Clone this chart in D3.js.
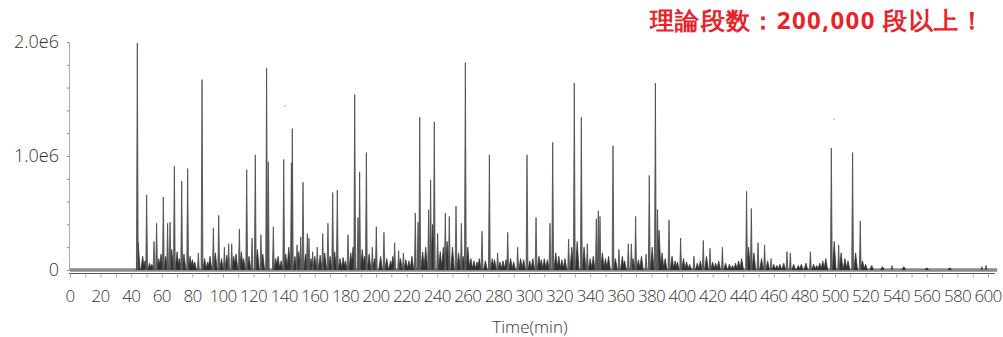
<!DOCTYPE html>
<html>
<head>
<meta charset="utf-8">
<script src="https://cdn.jsdelivr.net/npm/d3@7"></script>
<style>
  body { margin: 0; background: #fff; }
  svg text { font-family: "Open Sans", "Noto Sans", "DejaVu Sans", sans-serif; }
</style>
</head>
<body>
<div id="chart"></div>
<script>
// main peaks (time in min, height in units of 1e6)
const peakTimes = [44.0, 50.1, 54.9, 56.6, 61.0, 63.8, 65.4, 68.2, 73.0, 76.9, 83.9, 86.3, 93.7, 97.2,
  100.9, 103.7, 105.7, 110.7, 115.5, 119.0, 121.1, 124.8, 128.5, 129.6, 132.9, 139.7, 144.7, 145.3,
  148.4, 150.8, 152.3, 155.1, 156.2, 158.6, 161.6, 165.2, 168.6, 171.7, 174.7, 181.7, 186.1, 188.2,
  189.3, 193.7, 197.6, 200.2, 205.2, 212.2, 214.8, 217.9, 225.7, 227.5, 228.6, 234.4, 235.7, 238.1,
  240.3, 245.3, 247.9, 252.3, 255.8, 258.4, 269.3, 274.1, 279.5, 286.1, 292.6, 298.7, 304.6, 313.7,
  315.5, 325.9, 329.6, 334.2, 338.1, 344.0, 345.3, 346.4, 354.9, 358.8, 364.9, 366.9, 369.7, 376.5,
  378.6, 382.6, 384.0, 391.5, 399.1, 407.8, 413.9, 418.3, 426.4, 442.2, 445.3, 449.7, 454.0, 458.2,
  468.6, 470.8, 483.9, 497.6, 502.4, 511.5, 516.5, 537.3, 596.0, 598.7];
const peakHeights = [1.99, 0.66, 0.25, 0.41, 0.64, 0.41, 0.42, 0.91, 0.78, 0.89, 0.15, 1.67, 0.37, 0.48,
  0.20, 0.23, 0.23, 0.36, 0.88, 0.28, 1.01, 0.31, 1.77, 0.95, 0.38, 0.97, 0.94, 1.24,
  0.22, 0.29, 0.77, 0.32, 0.28, 0.16, 0.20, 0.32, 0.41, 0.68, 0.70, 0.31, 1.54, 0.46,
  0.86, 1.03, 0.20, 0.38, 0.33, 0.24, 0.17, 0.15, 0.50, 0.42, 1.34, 0.53, 0.79, 1.30,
  0.32, 0.50, 0.47, 0.56, 0.41, 1.82, 0.34, 1.01, 0.15, 0.33, 0.20, 1.01, 0.46, 0.41,
  1.12, 0.27, 1.64, 1.34, 0.23, 0.45, 0.52, 0.47, 1.09, 0.18, 0.23, 0.23, 0.47, 0.14,
  0.83, 1.64, 0.53, 0.44, 0.28, 0.12, 0.26, 0.19, 0.20, 0.69, 0.54, 0.24, 0.22, 0.10,
  0.16, 0.15, 0.16, 1.07, 0.22, 1.03, 0.43, 0.04, 0.03, 0.04];

// small bumps of the noisy baseline
const minorTimes = [44.6, 47.5, 49, 52, 53.5, 58, 59.5, 62.5, 66.5, 70, 71.5, 74.5, 78.5, 80, 81.5, 88, 90,
  91.5, 95, 99, 102.5, 107, 108.5, 112, 113.5, 117, 122.5, 126, 134.5, 136, 138, 141, 143, 147, 149.5,
  154, 157.5, 160, 163.5, 166.5, 170, 173, 176.5, 178.5, 180, 183.5, 185, 191, 192.5, 195.5, 199, 203,
  207, 209.5, 211, 216, 219.5, 221.5, 223.5, 230.5, 232.5, 237, 242, 244, 246.5, 250, 254, 257, 260,
  262, 264, 266, 267.5, 271.5, 276, 277.5, 281, 283, 285, 288, 290, 294.5, 296.5, 300.5, 302.5, 306.5,
  308, 310, 312, 317.5, 319.5, 321.5, 323.5, 328, 331.5, 336, 340, 342, 348, 350, 352, 356.5, 361,
  362.5, 368, 371.5, 373.5, 380.5, 385, 387, 389, 393.5, 395.5, 397, 401, 403, 405, 410, 412, 416,
  420, 422, 424, 428.5, 431, 433, 435, 437, 439, 443.5, 447, 452, 456, 460, 462, 464, 466.5, 473,
  476, 478, 481, 486, 488, 490, 492, 494, 499.5, 504, 506.5, 508.5, 513.5, 518, 520, 524, 531, 545,
  560, 575];
const minorHeights = [0.24, 0.12, 0.08, 0.06, 0.05, 0.10, 0.14, 0.12, 0.18, 0.16, 0.10, 0.14, 0.12, 0.09, 0.07, 0.10, 0.07,
  0.12, 0.15, 0.10, 0.13, 0.12, 0.14, 0.16, 0.10, 0.12, 0.18, 0.14, 0.10, 0.12, 0.08, 0.14, 0.20, 0.12, 0.16,
  0.14, 0.10, 0.12, 0.13, 0.15, 0.12, 0.16, 0.10, 0.11, 0.08, 0.15, 0.20, 0.18, 0.12, 0.14, 0.10, 0.12,
  0.10, 0.08, 0.12, 0.10, 0.09, 0.08, 0.12, 0.16, 0.20, 0.40, 0.16, 0.20, 0.25, 0.20, 0.15, 0.12, 0.20,
  0.10, 0.08, 0.07, 0.10, 0.08, 0.10, 0.09, 0.07, 0.08, 0.09, 0.10, 0.07, 0.10, 0.09, 0.08, 0.10, 0.12,
  0.09, 0.10, 0.09, 0.15, 0.12, 0.09, 0.10, 0.20, 0.25, 0.20, 0.10, 0.12, 0.15, 0.10, 0.12, 0.10, 0.12,
  0.08, 0.10, 0.09, 0.12, 0.20, 0.35, 0.15, 0.10, 0.12, 0.08, 0.07, 0.10, 0.07, 0.05, 0.06, 0.08, 0.12,
  0.07, 0.06, 0.08, 0.06, 0.05, 0.04, 0.06, 0.08, 0.10, 0.20, 0.15, 0.10, 0.08, 0.05, 0.04, 0.05, 0.06, 0.05,
  0.04, 0.05, 0.06, 0.05, 0.04, 0.06, 0.08, 0.10, 0.25, 0.15, 0.10, 0.08, 0.15, 0.08, 0.05, 0.04, 0.03, 0.03,
  0.02, 0.02];

// two stray dots above the trace
const strayTimes = [140.5, 499.3];
const strayHeights = [1.44, 1.32];

const xTickValues = [0, 20, 40, 60, 80, 100, 120, 140, 160, 180, 200, 220, 240, 260, 280, 300,
  320, 340, 360, 380, 400, 420, 440, 460, 480, 500, 520, 540, 560, 580, 600];
const yTickValues = [0, 1, 2];
const yTickLabels = ["0", "1.0e6", "2.0e6"];
const title = "理論段数：200,000 段以上！";
const xTitle = "Time(min)";

const width = 1003;
const height = 337;

const svg = d3.select("#chart")
  .append("svg")
  .attr("width", width)
  .attr("height", height);

const x = d3.scaleLinear().domain([0, 600]).range([70, 988]);
const y = d3.scaleLinear().domain([0, 2]).range([270, 42]);

const line = d3.line().x(d => x(d[0])).y(d => y(d[1]));

// y axis: thin line with small minor ticks, labels drawn separately
const yAxis = svg.append("g")
  .attr("transform", "translate(69,0)")
  .call(d3.axisLeft(y).tickValues(d3.range(0, 2.01, 0.2)).tickSize(2).tickFormat(""));
yAxis.select(".domain").attr("stroke", "#aaa");
yAxis.selectAll(".tick line").attr("stroke", "#888");

svg.selectAll(".ylab")
  .data(yTickValues)
  .enter()
  .append("text")
  .attr("class", "ylab")
  .attr("x", 59)
  .attr("y", d => y(d))
  .attr("dy", "0.35em")
  .attr("text-anchor", "end")
  .attr("font-size", 18)
  .attr("font-weight", 300)
  .attr("fill", "#333")
  .text((d, i) => yTickLabels[i]);

// thick grey baseline band
svg.append("path")
  .attr("d", line([[0, 0], [606, 0]]))
  .attr("stroke", "#8a8a8a")
  .attr("stroke-width", 3.5)
  .attr("fill", "none");

// x axis
const xAxis = svg.append("g")
  .attr("transform", "translate(0,273.5)")
  .call(d3.axisBottom(x).tickValues(d3.range(0, 601, 10)).tickSize(4).tickSizeOuter(0).tickFormat(""));
xAxis.select(".domain").attr("stroke", "#555").attr("d", "M69,0H995");
xAxis.selectAll(".tick line").attr("stroke", "#aaa");

svg.selectAll(".xlab")
  .data(xTickValues)
  .enter()
  .append("text")
  .attr("class", "xlab")
  .attr("x", d => x(d))
  .attr("y", 302)
  .attr("text-anchor", "middle")
  .attr("font-size", 17)
  .attr("letter-spacing", -0.7)
  .attr("font-weight", 300)
  .attr("fill", "#333")
  .text(d => d);

svg.append("text")
  .attr("x", 530)
  .attr("y", 333)
  .attr("text-anchor", "middle")
  .attr("font-size", 17)
  .attr("font-weight", 300)
  .attr("fill", "#333")
  .text(xTitle);

// baseline noise
svg.append("g")
  .selectAll("path")
  .data(minorTimes)
  .enter()
  .append("path")
  .attr("d", (t, i) => line([[t - 1.2, 0], [t, minorHeights[i]], [t + 1.2, 0]]))
  .attr("fill", "#333")
  .attr("stroke", "#2a2a2a")
  .attr("stroke-width", 0.7);

// the peaks
svg.append("g")
  .selectAll("path")
  .data(peakTimes)
  .enter()
  .append("path")
  .attr("d", (t, i) => line([[t - 0.6, 0], [t, peakHeights[i]], [t + 0.6, 0]]))
  .attr("fill", "#666")
  .attr("stroke", "#444")
  .attr("stroke-width", 0.75);

svg.selectAll(".stray")
  .data(strayTimes)
  .enter()
  .append("circle")
  .attr("cx", d => x(d))
  .attr("cy", (d, i) => y(strayHeights[i]))
  .attr("r", 0.8)
  .attr("fill", "#aaa");

// red headline
svg.append("text")
  .attr("x", 985)
  .attr("y", 29)
  .attr("text-anchor", "end")
  .attr("font-family", "'Noto Sans CJK JP', sans-serif")
  .attr("font-size", 24)
  .attr("letter-spacing", 1.4)
  .attr("font-weight", 700)
  .attr("fill", "#e8232a")
  .text(title);
</script>
</body>
</html>
